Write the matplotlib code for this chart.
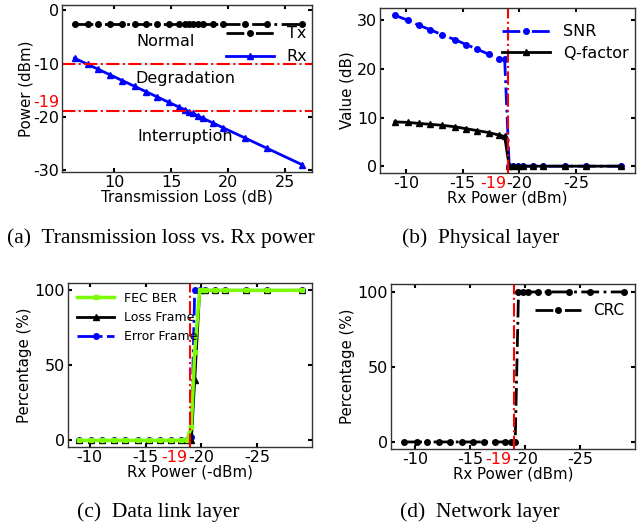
import matplotlib
matplotlib.use("Agg")
import matplotlib.pyplot as plt
import matplotlib.transforms as mtransforms

# --------- DATA ---------
loss_db = [6.5, 7.65, 8.6, 9.65, 10.7, 11.8, 12.8, 13.8, 14.8, 15.7,
           16.2, 16.6, 16.9, 17.35, 17.8, 18.7, 19.6, 21.5, 23.4, 26.5]
tx_dbm = [-2.5] * 20
rx_dbm = [-9.0, -10.15, -11.1, -12.15, -13.2, -14.3, -15.3, -16.3, -17.3, -18.2,
          -18.7, -19.1, -19.4, -19.85, -20.3, -21.2, -22.1, -24.0, -25.9, -29.0]

snr_db = [31, 30, 29, 28, 27, 26, 25, 24, 23, 22, 22,
          0, 0, 0, 0, 0, 0, 0, 0, 0]
qfactor_db = [9.1, 9.0, 8.8, 8.6, 8.4, 8.1, 7.7, 7.3, 6.9, 6.4, 6.1,
              0, 0, 0, 0, 0, 0, 0, 0, 0]

fec_ber = [0] * 11 + [9, 59] + [100] * 7
loss_frame = [0] * 12 + [40] + [100] * 7
error_frame = [0] * 11 + [2, 100] + [100] * 7

crc = [0] * 12 + [100] * 8

threshold = -19
# -------------------------------------------------

plt.rcParams["font.family"] = "DejaVu Sans"
plt.rcParams["axes.unicode_minus"] = False
TICK_FS = 11.5
LABEL_FS = 10.8

fig = plt.figure(figsize=(6.41, 5.25), dpi=100)
W, H = 641, 525


def add_ax(l, t, r, b):
    return fig.add_axes([l / W, 1 - b / H, (r - l) / W, (b - t) / H])


def style(ax):
    ax.tick_params(direction="in", top=True, right=True, length=3, width=1.5,
                   labelsize=TICK_FS, pad=2)
    for s in ax.spines.values():
        s.set_color("#333333")
        s.set_linewidth(1.0)


def red_xlabel(ax, x):
    trans = mtransforms.blended_transform_factory(ax.transData, ax.transAxes)
    ax.annotate("-19", xy=(x, 0), xycoords=trans, xytext=(0, -2),
                textcoords="offset points", color="red", ha="center",
                va="top", fontsize=TICK_FS)


# (a) transmission loss vs Rx power
ax = add_ax(62, 5, 312, 172)
ax.plot(loss_db, tx_dbm, "k-.", marker="o", ms=4, lw=2, label="Tx")
ax.plot(loss_db, rx_dbm, "b-", marker="^", ms=4, lw=2, label="Rx")
ax.axhline(-10, color="red", ls="-.", lw=1.5)
ax.axhline(threshold, color="red", ls="-.", lw=1.5)
ax.text(14.5, -5.9, "Normal", ha="center", va="center", fontsize=TICK_FS)
ax.text(16.3, -12.9, "Degradation", ha="center", va="center", fontsize=TICK_FS)
ax.text(16.2, -23.8, "Interruption", ha="center", va="center", fontsize=TICK_FS)
ax.set_xlim(5.4, 27.4)
ax.set_ylim(-30.4, 1)
ax.set_xticks([10, 15, 20, 25])
ax.set_yticks([0, -10, -20, -30])
ax.set_xlabel("Transmission Loss (dB)", labelpad=0, fontsize=LABEL_FS)
ax.set_ylabel("Power (dBm)", labelpad=0, fontsize=LABEL_FS)
trans = mtransforms.blended_transform_factory(ax.transAxes, ax.transData)
ax.annotate("-19", xy=(0, -17.4), xycoords=trans, xytext=(-2, 0),
            textcoords="offset points", color="red", ha="right", va="center",
            fontsize=TICK_FS)
ax.legend(loc="upper right", frameon=False, bbox_to_anchor=(1.02, 0.93),
          handlelength=3.0, labelspacing=0.5, borderaxespad=0.2,
          fontsize=TICK_FS)
style(ax)

# (b) physical layer
ax = add_ax(380, 8, 635, 173)
ax.plot(rx_dbm, snr_db, "b-.", marker="o", ms=4, lw=2, label="SNR")
ax.plot(rx_dbm, qfactor_db, "k-", marker="^", ms=4, lw=2, label="Q-factor")
ax.axvline(threshold, color="red", ls="-.", lw=1.5)
ax.set_xlim(-7.7, -30.2)
ax.set_ylim(-1.4, 32.5)
ax.set_xticks([-10, -15, -20, -25])
ax.set_yticks([0, 10, 20, 30])
ax.set_xlabel("Rx Power (dBm)", labelpad=0, fontsize=LABEL_FS)
ax.set_ylabel("Value (dB)", labelpad=2, fontsize=LABEL_FS)
red_xlabel(ax, -17.7)
ax.legend(loc="upper right", frameon=False, bbox_to_anchor=(1.02, 0.97),
          handlelength=3.0, labelspacing=0.4, borderaxespad=0.3,
          fontsize=TICK_FS)
style(ax)

# (c) data link layer
ax = add_ax(68, 283, 312, 447)
ax.plot(rx_dbm, error_frame, "b-.", marker="o", ms=4, lw=2, label="Error Frame")
ax.plot(rx_dbm, loss_frame, "k-", marker="^", ms=4, lw=2, label="Loss Frame")
ax.plot(rx_dbm, fec_ber, "-", color="#7CFC00", marker="s", ms=3.5, lw=2.5,
        label="FEC BER")
ax.axvline(threshold, color="red", ls="-.", lw=1.5)
ax.set_xlim(-8.06, -29.9)
ax.set_ylim(-4.4, 104.9)
ax.set_xticks([-10, -15, -20, -25])
ax.set_yticks([0, 50, 100])
ax.set_xlabel("Rx Power (-dBm)", labelpad=0, fontsize=LABEL_FS)
ax.set_ylabel("Percentage (%)", labelpad=2, fontsize=LABEL_FS)
red_xlabel(ax, -17.6)
h, l = ax.get_legend_handles_labels()
ax.legend(h[::-1], l[::-1], loc="upper left", frameon=False, handlelength=3.0,
          labelspacing=0.5, borderaxespad=0.3, fontsize=9)
style(ax)

# (d) network layer
ax = add_ax(391, 284, 635, 449)
ax.plot(rx_dbm, crc, "k-.", marker="o", ms=4, lw=2, label="CRC")
ax.axvline(threshold, color="red", ls="-.", lw=1.5)
ax.set_xlim(-7.8, -30.0)
ax.set_ylim(-4.7, 105.3)
ax.set_xticks([-10, -15, -20, -25])
ax.set_yticks([0, 50, 100])
ax.set_xlabel("Rx Power (dBm)", labelpad=0, fontsize=LABEL_FS)
ax.set_ylabel("Percentage (%)", labelpad=2, fontsize=LABEL_FS)
red_xlabel(ax, -17.6)
ax.legend(loc="upper right", frameon=False, bbox_to_anchor=(1.0, 0.95),
          handlelength=3.0, borderaxespad=0.3, fontsize=11)
style(ax)

# captions
cap = dict(family="Liberation Serif", fontsize=15.5, ha="center", va="center")
fig.text(161 / W, 1 - 238 / H, "(a)  Transmission loss vs. Rx power", **cap)
fig.text(481 / W, 1 - 238 / H, "(b)  Physical layer", **cap)
fig.text(158 / W, 1 - 512 / H, "(c)  Data link layer", **cap)
fig.text(480 / W, 1 - 512 / H, "(d)  Network layer", **cap)

fig.savefig("out.png", dpi=100)
